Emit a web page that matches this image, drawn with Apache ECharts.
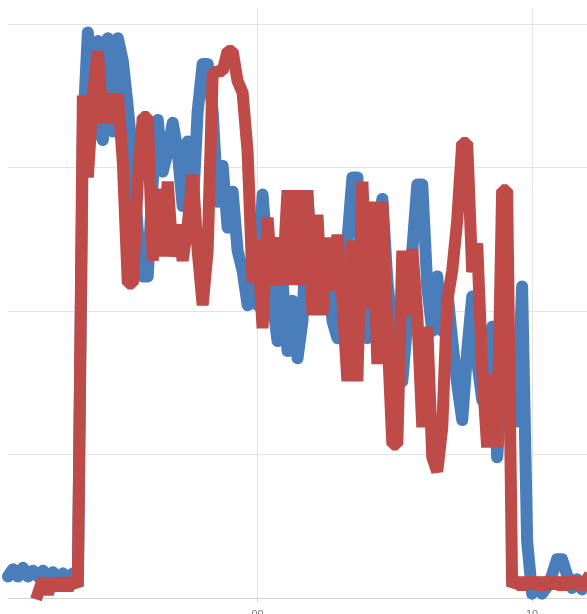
<!DOCTYPE html>
<html>
<head>
<meta charset="utf-8">
<script src="https://cdn.jsdelivr.net/npm/echarts@6/dist/echarts.min.js"></script>
<style>
  html, body { margin: 0; padding: 0; background: #ffffff; }
  #chart { width: 587px; height: 614px; }
</style>
</head>
<body>
<div id="chart"></div>
<script>
// Sample positions (category index) and the two labelled ticks
const categories = Array.from({ length: 117 }, (_, i) => String(i));
const tickIndex = [50, 105];
const tickLabels = ['00', '10'];

// Blue series values
const blueValues = [
  1.5, 2.0, 1.5, 2.1, 1.5, 1.9, 1.5, 1.9, 1.4, 1.8,
  1.4, 1.7, 1.4, 1.7, 1.4, 32.2, 39.4, 32.2, 38.8, 31.9,
  39.0, 32.5, 39.0, 37.4, 34.2, 30.4, 25.6, 22.4, 22.4, 29.0,
  33.3, 29.7, 31.1, 33.1, 31.1, 27.3, 31.8, 27.0, 33.9, 37.2,
  37.2, 33.9, 27.6, 30.1, 25.8, 28.3, 24.2, 22.8, 20.4, 24.2,
  20.4, 28.1, 23.5, 20.7, 17.9, 22.1, 17.2, 20.7, 16.7, 19.3,
  27.9, 23.5, 25.3, 21.4, 24.2, 19.3, 18.1, 21.4, 24.9, 29.3,
  29.3, 20.7, 18.1, 20.7, 24.9, 27.8, 22.1, 18.6, 17.2, 15.1,
  19.3, 24.2, 28.8, 28.8, 21.7, 18.6, 22.4, 18.6, 21.4, 17.9,
  14.9, 12.4, 17.2, 21.0, 16.5, 13.8, 17.2, 18.9, 9.8, 15.1,
  12.4, 16.5, 12.3, 21.7, 4.0, 0.3, 0.8, 0.3, 0.8, 1.6,
  2.7, 2.7, 1.6, 0.7, 1.3, 0.6, 1.3
];

// Red series values (starts a little later)
const redValues = [
  null, null, null, null, null, null, 0.3, 1.3, 0.3, 1.3,
  0.6, 1.3, 0.6, 1.3, 0.8, 35.0, 29.3, 35.0, 38.1, 33.1,
  35.1, 33.1, 35.1, 30.4, 21.9, 21.9, 29.0, 33.5, 33.5, 23.5,
  28.5, 23.8, 29.0, 23.8, 26.0, 23.5, 26.0, 29.5, 24.2, 20.4,
  24.2, 36.5, 36.7, 36.7, 38.1, 38.1, 36.0, 35.2, 31.1, 22.0,
  24.9, 18.8, 26.5, 21.8, 25.1, 21.8, 28.4, 21.8, 28.4, 21.8,
  28.4, 19.7, 26.7, 19.7, 25.1, 21.4, 25.3, 20.7, 15.1, 24.9,
  15.1, 29.0, 20.2, 27.6, 16.3, 27.6, 18.6, 10.7, 10.7, 24.2,
  19.7, 24.3, 19.7, 11.9, 18.9, 9.8, 8.8, 11.9, 20.7, 22.8,
  26.3, 31.7, 31.7, 22.7, 24.7, 16.0, 10.5, 15.6, 10.5, 28.4,
  28.4, 0.8, 1.3, 0.7, 1.3, 0.8, 1.3, 0.7, 1.3, 0.8,
  1.3, 0.7, 1.3, 0.8, 1.3, 0.7, 1.3
];

const chart = echarts.init(document.getElementById('chart'), null, { renderer: 'canvas' });

const isTick = (index) => tickIndex.indexOf(index) !== -1;

chart.setOption({
  animation: false,
  backgroundColor: '#ffffff',
  grid: { left: 8, right: 0, top: 8, bottom: 16, containLabel: false, outerBoundsMode: 'none' },
  xAxis: {
    type: 'category',
    data: categories,
    boundaryGap: false,
    axisLine: { show: true, lineStyle: { color: '#d4d4d4', width: 1 } },
    axisTick: { show: true, interval: (i) => isTick(i), length: 4, lineStyle: { color: '#d4d4d4' } },
    axisLabel: {
      interval: (i) => isTick(i),
      formatter: (v, i) => { const k = tickIndex.indexOf(i); return k === -1 ? '' : tickLabels[k]; },
      color: '#7a7a7a',
      fontSize: 11,
      fontFamily: 'Liberation Sans, Arial, sans-serif',
      margin: 11
    },
    splitLine: { show: true, interval: (i) => isTick(i), lineStyle: { color: '#e3e3e3', width: 1 } }
  },
  yAxis: {
    type: 'value',
    min: 0,
    max: 41.1,
    interval: 10,
    axisLine: { show: false },
    axisTick: { show: false },
    axisLabel: { show: false },
    splitLine: {
      show: true,
      lineStyle: { color: ['#e3e3e3', '#e3e3e3', '#e3e3e3', '#e3e3e3', '#e3e3e3', 'rgba(0,0,0,0)'], width: 1 }
    }
  },
  series: [
    {
      name: 'blue',
      type: 'line',
      data: blueValues,
      symbol: 'none',
      clip: false,
      lineStyle: { color: '#4a7ebb', width: 12, cap: 'round', join: 'round' },
      z: 2
    },
    {
      name: 'red',
      type: 'line',
      data: redValues,
      symbol: 'none',
      clip: false,
      lineStyle: { color: '#be4b48', width: 12, cap: 'square', join: 'bevel' },
      z: 3
    }
  ]
});
</script>
</body>
</html>
